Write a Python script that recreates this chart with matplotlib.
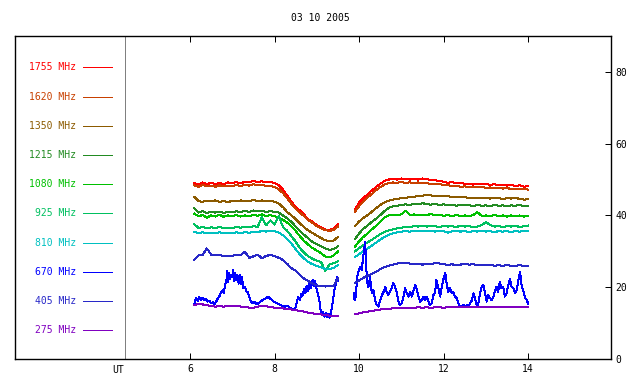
import numpy as np
import matplotlib.pyplot as plt

# Time grids (UT hours), two observing blocks
t_left = np.round(np.arange(6.1, 9.55, 0.1), 2)
t_right = np.round(np.arange(9.9, 14.05, 0.1), 2)

# flux per frequency, left block (6.1 .. 9.5)
f1755_l = [49.0, 48.6, 49.2, 48.7, 49.1, 48.8, 49.0, 48.7, 49.2, 49.0, 49.3, 48.9, 49.4, 49.2, 49.6, 49.3, 49.5, 49.2,
           49.4, 49.0, 48.4, 47.2, 45.5, 43.8, 42.3, 41.4, 40.2, 38.9, 38.2, 37.3, 36.7, 36.1, 35.9, 36.4, 37.5]
f1620_l = [48.4, 48.0, 48.5, 48.1, 48.3, 48.0, 48.4, 48.1, 48.3, 48.2, 48.5, 48.1, 48.6, 48.3, 48.7, 48.4, 48.5, 48.2,
           48.3, 47.9, 47.3, 46.2, 44.8, 43.2, 41.8, 40.8, 39.8, 38.7, 37.9, 37.0, 36.4, 35.9, 35.7, 36.0, 36.9]
f1350_l = [45.2, 44.0, 43.8, 44.1, 43.9, 44.2, 43.8, 44.0, 43.7, 44.1, 43.9, 44.2, 43.9, 44.0, 44.3, 44.0, 44.2, 44.0,
           44.1, 43.8, 43.3, 42.3, 40.9, 40.0, 39.0, 37.8, 36.7, 35.8, 35.1, 34.4, 33.7, 33.1, 32.8, 33.0, 34.0]
f1215_l = [42.0, 40.8, 41.2, 40.7, 41.0, 40.8, 41.1, 40.7, 41.0, 40.9, 41.2, 40.9, 41.3, 41.0, 41.4, 41.1, 41.3, 41.0,
           41.2, 41.0, 40.8, 40.0, 39.2, 38.2, 36.9, 35.6, 34.6, 33.6, 32.6, 32.0, 31.4, 30.8, 30.4, 30.6, 31.4]
f1080_l = [40.5, 39.8, 40.1, 39.4, 40.0, 39.7, 40.2, 39.6, 40.0, 39.8, 40.1, 39.7, 40.0, 39.8, 40.2, 39.9, 40.3, 39.8,
           40.1, 39.8, 39.4, 38.8, 38.0, 37.0, 35.7, 34.2, 32.9, 31.8, 30.9, 30.2, 29.5, 28.6, 28.3, 28.9, 29.9]
f925_l = [37.6, 36.5, 36.8, 36.4, 36.7, 36.5, 36.8, 36.4, 36.6, 36.5, 36.8, 36.6, 36.9, 36.7, 37.0, 36.8, 39.5, 37.2,
          38.6, 37.4, 39.8, 36.8, 35.7, 34.2, 32.7, 30.9, 29.6, 28.6, 27.9, 27.4, 27.0, 24.6, 26.3, 26.7, 27.2]
f810_l = [35.4, 35.1, 35.3, 35.0, 35.2, 35.0, 35.3, 35.1, 35.2, 35.0, 35.3, 35.1, 35.3, 35.2, 35.4, 35.3, 35.7, 35.5,
          35.8, 35.6, 35.2, 34.5, 33.4, 32.2, 30.6, 29.1, 28.0, 27.0, 26.4, 25.9, 25.5, 25.1, 25.0, 25.4, 26.2]
f405_l = [27.6, 28.9, 29.0, 30.8, 29.1, 28.9, 29.0, 28.7, 28.8, 28.8, 28.9, 29.0, 29.9, 28.2, 28.6, 29.1, 28.1, 28.7,
          29.0, 28.7, 28.2, 27.6, 26.5, 25.3, 24.6, 23.4, 22.4, 21.7, 21.0, 20.5, 20.3, 20.2, 20.3, 20.3, 22.5]
f275_l = [15.0, 15.4, 15.2, 15.0, 14.8, 14.6, 14.7, 14.6, 14.8, 14.7, 14.9, 14.6, 14.5, 14.3, 14.3, 14.6, 14.8, 14.7,
          14.5, 14.3, 14.1, 14.1, 13.9, 13.8, 13.6, 13.4, 13.2, 12.9, 12.7, 12.5, 12.4, 12.2, 12.1, 12.1, 12.1]

# right block (9.9 .. 14.0)
f1755_r = [41.5, 43.6, 44.8, 45.9, 46.9, 47.9, 48.8, 49.6, 50.0, 50.2, 50.0, 50.3, 50.1, 50.0, 50.2, 50.0, 50.3, 50.1,
           49.9, 49.8, 49.6, 49.4, 49.1, 49.3, 48.9, 49.1, 48.8, 48.9, 48.6, 48.9, 48.7, 48.8, 48.5, 48.7, 48.4, 48.6,
           48.3, 48.5, 48.2, 48.4, 48.0, 48.2]
f1620_r = [41.0, 42.6, 43.9, 45.0, 46.0, 47.0, 47.9, 48.6, 49.0, 49.2, 49.1, 49.3, 49.1, 49.2, 49.0, 49.2, 48.9, 49.0,
           48.8, 48.9, 48.7, 48.5, 48.4, 48.2, 48.3, 48.0, 48.1, 47.9, 48.0, 47.8, 47.9, 47.7, 47.8, 47.6, 47.7, 47.5,
           47.6, 47.4, 47.5, 47.3, 47.4, 47.2]
f1350_r = [37.0, 38.3, 39.3, 40.1, 41.0, 42.0, 42.9, 43.6, 44.1, 44.4, 44.6, 44.8, 44.9, 45.1, 45.2, 45.4, 45.5, 45.8,
           45.6, 45.4, 45.5, 45.3, 45.4, 45.1, 45.2, 45.0, 45.1, 44.9, 45.0, 44.8, 45.0, 44.9, 44.7, 44.9, 44.8, 44.6,
           44.8, 44.7, 44.9, 44.6, 44.4, 44.5]
f1215_r = [33.4, 35.0, 36.3, 37.2, 38.2, 39.1, 40.1, 41.2, 42.1, 42.5, 42.7, 42.9, 43.1, 42.9, 43.3, 43.1, 43.4, 43.2,
           43.0, 43.2, 42.9, 43.1, 42.8, 43.0, 42.7, 43.0, 42.8, 42.9, 42.6, 42.9, 42.7, 42.8, 42.6, 42.9, 42.7, 42.8,
           42.6, 42.8, 42.7, 42.9, 42.6, 42.7]
f1080_r = [31.3, 32.8, 34.0, 35.0, 36.1, 37.1, 38.2, 39.4, 40.0, 40.2, 40.0, 40.3, 41.3, 40.1, 40.3, 40.0, 40.2, 40.1,
           40.4, 40.0, 40.2, 39.9, 40.1, 39.8, 40.1, 39.9, 40.0, 39.8, 40.1, 40.9, 39.9, 40.0, 39.8, 40.1, 39.9, 40.0,
           39.7, 40.0, 39.8, 40.0, 39.7, 39.9]
f925_r = [30.0, 30.9, 31.7, 32.5, 33.2, 34.0, 34.8, 35.4, 35.8, 36.1, 36.4, 36.6, 36.8, 36.7, 37.0, 36.9, 37.1, 36.9,
          37.2, 37.0, 36.8, 37.1, 36.9, 37.0, 36.8, 37.1, 36.9, 37.0, 36.8, 36.9, 37.3, 38.1, 37.4, 36.9, 37.0, 36.8,
          37.0, 36.9, 37.1, 36.8, 37.0, 37.2]
f810_r = [28.4, 29.2, 30.0, 30.8, 31.6, 32.4, 33.3, 34.0, 34.6, 35.0, 35.3, 35.5, 35.6, 35.5, 35.7, 35.6, 35.8, 35.6,
          35.7, 35.5, 35.7, 35.6, 35.2, 35.6, 35.7, 35.5, 35.6, 35.4, 35.6, 35.5, 35.7, 35.5, 35.6, 35.4, 35.6, 35.5,
          35.6, 35.4, 35.6, 35.5, 35.6, 35.7]
f405_r = [21.2, 21.9, 22.6, 23.2, 23.7, 24.3, 25.0, 25.6, 26.0, 26.3, 26.6, 26.8, 26.7, 26.6, 26.4, 26.6, 26.3, 26.5,
          26.4, 26.8, 26.6, 26.4, 26.2, 26.4, 26.1, 26.3, 26.6, 26.3, 26.4, 26.2, 26.3, 26.1, 26.2, 26.0, 26.1, 26.0,
          26.1, 26.0, 26.0, 26.1, 26.0, 26.0]
f275_r = [12.5, 12.7, 13.0, 13.2, 13.4, 13.6, 13.8, 13.9, 14.0, 14.1, 14.2, 14.3, 14.3, 14.2, 14.3, 14.4, 14.3, 14.4,
          14.3, 14.4, 14.4, 14.3, 14.4, 14.5, 14.4, 14.4, 14.5, 14.4, 14.5, 14.5, 14.4, 14.5, 14.5, 14.6, 14.5, 14.6,
          14.5, 14.6, 14.6, 14.6, 14.6, 14.6]

# 670 MHz is bursty, sampled more finely
t670_l = [6.10, 6.14, 6.18, 6.22, 6.26, 6.30, 6.34, 6.38, 6.42, 6.46, 6.50, 6.54, 6.58, 6.62, 6.66, 6.70, 6.74, 6.78,
          6.80, 6.83, 6.86, 6.88, 6.90, 6.92, 6.95, 6.97, 7.00, 7.02, 7.05, 7.07, 7.10, 7.12, 7.15, 7.18, 7.21, 7.23,
          7.26, 7.30, 7.33, 7.36, 7.40, 7.44, 7.49, 7.53, 7.58, 7.63, 7.68, 7.73, 7.78, 7.85, 7.90, 7.95, 8.00, 8.05,
          8.10, 8.15, 8.20, 8.25, 8.30, 8.35, 8.40, 8.45, 8.50, 8.53, 8.56, 8.60, 8.63, 8.66, 8.70, 8.73, 8.76, 8.80,
          8.83, 8.86, 8.90, 8.93, 8.96, 9.00, 9.03, 9.06, 9.09, 9.12, 9.15, 9.18, 9.21, 9.24, 9.27, 9.30, 9.33, 9.36,
          9.39, 9.42, 9.45, 9.48, 9.50]
f670_l = [15.0, 16.9, 16.2, 17.2, 16.5, 17.0, 16.4, 16.8, 16.0, 16.3, 15.5, 15.8, 15.3, 16.0, 16.9, 17.6, 18.6, 19.2,
          18.4, 20.6, 21.8, 24.5, 21.5, 23.9, 22.3, 23.4, 22.9, 24.8, 21.6, 23.9, 21.9, 23.5, 21.0, 23.4, 20.8, 22.9,
          19.9, 20.1, 18.9, 18.7, 17.4, 16.0, 15.5, 15.9, 15.3, 15.6, 16.1, 16.5, 16.8, 17.4, 16.8, 16.3, 15.8, 15.6,
          15.3, 15.0, 14.8, 14.6, 14.9, 14.4, 14.1, 13.8, 14.4, 16.0, 17.2, 16.4, 18.2, 17.5, 19.6, 18.4, 20.3, 19.0,
          21.5, 19.8, 22.0, 20.4, 21.7, 19.2, 17.8, 16.4, 13.6, 12.4, 13.1, 11.8, 12.9, 11.6, 12.6, 11.5, 12.8, 14.6,
          16.9, 19.5, 21.0, 22.9, 21.8]
t670_r = [9.87, 9.88, 9.90, 9.93, 9.95, 9.98, 10.02, 10.06, 10.10, 10.14, 10.17, 10.18, 10.22, 10.26, 10.30, 10.34,
          10.38, 10.42, 10.46, 10.50, 10.54, 10.58, 10.62, 10.65, 10.69, 10.73, 10.77, 10.81, 10.85, 10.89, 10.93,
          10.97, 11.01, 11.05, 11.09, 11.13, 11.17, 11.21, 11.25, 11.29, 11.33, 11.37, 11.40, 11.44, 11.48, 11.52,
          11.56, 11.60, 11.64, 11.68, 11.72, 11.76, 11.80, 11.83, 11.87, 11.92, 11.95, 11.99, 12.04, 12.07, 12.11,
          12.15, 12.19, 12.23, 12.27, 12.31, 12.35, 12.39, 12.43, 12.47, 12.51, 12.55, 12.59, 12.63, 12.67, 12.71,
          12.75, 12.79, 12.83, 12.86, 12.90, 12.94, 12.98, 13.02, 13.06, 13.10, 13.14, 13.18, 13.22, 13.25, 13.29,
          13.33, 13.37, 13.41, 13.45, 13.49, 13.53, 13.57, 13.61, 13.65, 13.69, 13.73, 13.77, 13.81, 13.85, 13.89,
          13.93, 13.97, 14.00]
f670_r = [18.3, 16.7, 16.4, 18.0, 22.9, 24.0, 25.7, 24.8, 28.5, 32.7, 27.6, 22.0, 20.1, 22.9, 18.3, 19.2,
          16.4, 15.0, 14.6, 16.4, 17.8, 18.7, 20.1, 18.7, 17.8, 18.7, 19.7, 21.1, 20.1, 18.7, 16.0,
          15.0, 15.5, 17.4, 19.7, 18.3, 17.4, 18.7, 17.4, 19.2, 20.6, 19.2, 17.8, 16.0, 16.4, 17.4,
          16.4, 17.4, 16.0, 15.0, 15.5, 17.8, 18.7, 22.0, 20.1, 17.4, 19.7, 22.0, 23.9, 21.1, 18.7,
          19.7, 18.3, 18.7, 17.4, 16.9, 15.5, 14.6, 14.6, 15.0, 14.6, 15.0, 14.6, 15.5, 16.4, 18.3,
          16.4, 14.6, 16.0, 18.3, 20.1, 20.6, 18.3, 16.0, 17.8, 16.9, 16.4, 17.4, 19.2, 20.1, 18.7,
          21.5, 19.7, 20.1, 17.4, 18.3, 20.6, 22.4, 20.1, 19.7, 18.3, 19.2, 22.0, 24.3, 20.1, 18.7,
          16.9, 16.4, 15.3]

labels = ["1755 MHz", "1620 MHz", "1350 MHz", "1215 MHz", "1080 MHz",
          "925 MHz", "810 MHz", "670 MHz", "405 MHz", "275 MHz"]
colors = ["#ff0000", "#c84000", "#8c5a00", "#228b22", "#00c000",
          "#00c060", "#00c0c0", "#0000ff", "#2828c8", "#8000c0"]

series = [
    (t_left, f1755_l, t_right, f1755_r),
    (t_left, f1620_l, t_right, f1620_r),
    (t_left, f1350_l, t_right, f1350_r),
    (t_left, f1215_l, t_right, f1215_r),
    (t_left, f1080_l, t_right, f1080_r),
    (t_left, f925_l, t_right, f925_r),
    (t_left, f810_l, t_right, f810_r),
    (t670_l, f670_l, t670_r, f670_r),
    (t_left, f405_l, t_right, f405_r),
    (t_left, f275_l, t_right, f275_r),
]

plt.rcParams['font.family'] = 'DejaVu Sans Mono'
plt.rcParams['lines.antialiased'] = False

fig = plt.figure(figsize=(6.4, 3.84), dpi=100)
ax = fig.add_axes([15/640, 25/384, 596/640, 323/384])

for (tl, yl, tr, yr), c in zip(series, colors):
    ax.plot(tl, yl, color=c, lw=0.72)
    ax.plot(tr, yr, color=c, lw=0.72)

ax.set_xlim(1.86, 15.96)
ax.set_ylim(0, 90)

# UT separator
ax.axvline(4.46, color="#808080", lw=0.72)
ax.text(4.3, -1.8, "UT", fontsize=7, ha="center", va="top")

# legend column
for i, (lab, c) in enumerate(zip(labels, colors)):
    yy = 0.903 - i * 0.0904
    ax.text(0.102, yy, lab, color=c, fontsize=7, ha="right", va="center", transform=ax.transAxes)
    ax.plot([0.114, 0.163], [yy, yy], color=c, lw=0.72, transform=ax.transAxes)

ax.set_xticks([6, 8, 10, 12, 14])
ax.set_yticks([0, 20, 40, 60, 80])
ax.tick_params(axis="x", direction="in", length=4, width=0.72, top=True, labelsize=7, pad=3.5)
ax.tick_params(axis="y", direction="in", length=4, width=0.72, left=False, right=True,
               labelleft=False, labelright=True, labelsize=7, pad=3)
for s in ax.spines.values():
    s.set_linewidth(1.0)

fig.text(0.5, 1 - 18/384, "03 10 2005", fontsize=7, ha="center", va="center")

fig.savefig("out.png", dpi=100)
